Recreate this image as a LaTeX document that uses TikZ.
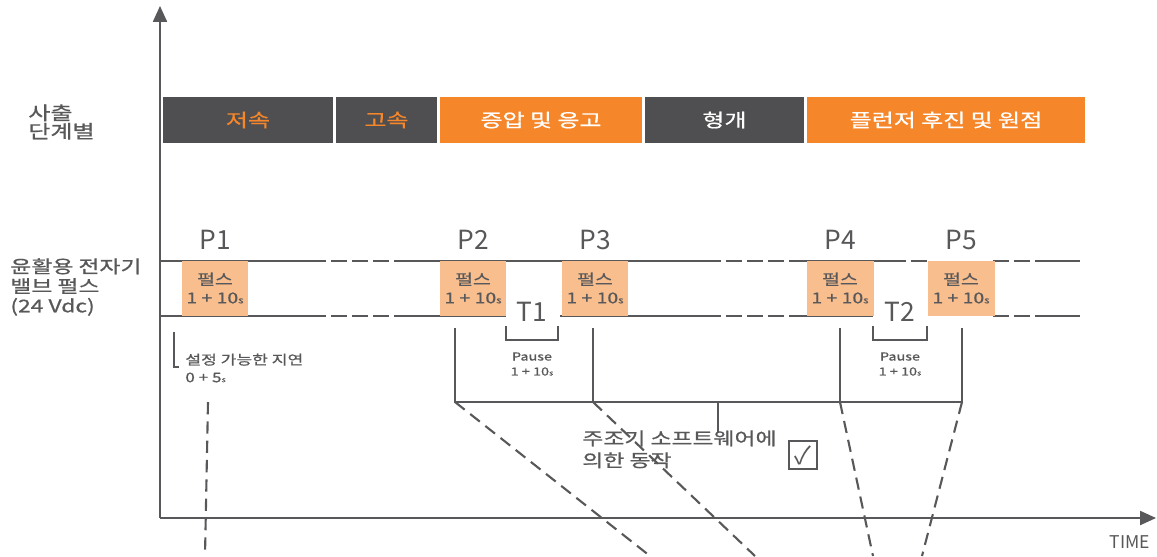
\documentclass[tikz,border=0pt]{standalone}
\usepackage{fontspec}
\setmainfont{Noto Sans CJK KR}
\newfontfamily\krfont{Noto Sans CJK KR}[FakeStretch=1.3, FakeBold=0.8]
\usetikzlibrary{arrows.meta}
\definecolor{darkbar}{HTML}{4F4F51}
\definecolor{orangebar}{HTML}{F5862A}
\definecolor{pulsefill}{HTML}{F8BE8E}
\definecolor{linegray}{HTML}{58585A}

\begin{document}
\begin{tikzpicture}[x=0.02cm, y=-0.02cm,
	every node/.style={inner sep=0pt, text=linegray},
	phase/.style={minimum height=0.92cm, font=\krfont\fontsize{10.5}{11}\selectfont},
	pulse/.style={fill=pulsefill, minimum width=1.34cm, minimum height=1.1cm, align=center, font=\krfont\fontsize{8.5}{10.5}\selectfont},
	plabel/.style={font=\fontsize{15}{16}\selectfont},
	small/.style={align=center, font=\krfont\fontsize{6.3}{8.5}\selectfont},
	axis/.style={draw=linegray, line width=0.9pt, -{Triangle[length=9pt, width=8pt]}},
	wire/.style={draw=linegray, line width=0.6pt},
	gapline/.style={wire, dash pattern=on 9pt off 3pt},
	cut/.style={draw=linegray, line width=1.2pt, dash pattern=on 7pt off 4pt}]

\useasboundingbox (0,0) rectangle (1157,556);

% axes
\coordinate (origin) at (160,518);
\coordinate (ytip) at (160,6);
\coordinate (xtip) at (1156,518);
\draw[axis] (origin) -- (ytip);
\draw[axis] (origin) -- (xtip);
\node(time) at (1130,542) {\fontsize{10}{11}\selectfont TIME};

% injection phases
\node(stage) [align=left, anchor=west, font=\krfont\fontsize{10.5}{10.5}\selectfont] at (28,122) {사출\\단계별};
\foreach [count=\i] \a\b\c\t\txt in {
163/333/darkbar/orangebar/저속%
,336/437/darkbar/orangebar/고속%
,440/642/orangebar/white/증압 및 응고%
,645/804/darkbar/white/형개%
,807/1085/orangebar/white/플런저 후진 및 원점%
}{
	\pgfmathsetmacro\w{(\b-\a)*0.02}
	\node(ph\i) [phase, fill=\c, text=\t, minimum width=\w cm] at ({(\a+\b)/2},120) {\txt};
}

% valve pulses
\node(valve) [align=left, anchor=west, font=\krfont\fontsize{10}{11.2}\selectfont] at (10,287) {윤활용 전자기\\밸브 펄스\\(24 Vdc)};
\draw[wire] (160,261) -- (310,261);
\draw[gapline] (310,261) -- (400,261);
\draw[wire] (400,261) -- (705,261);
\draw[gapline] (705,261) -- (800,261);
\draw[wire] (800,261) -- (890,261);
\draw[gapline] (890,261) -- (928,261);
\draw[gapline] (993,261) -- (1040,261);
\draw[wire] (1040,261) -- (1080,261);
\draw[wire] (160,316) -- (310,316);
\draw[gapline] (310,316) -- (400,316);
\draw[wire] (400,316) -- (506,316);
\draw[wire] (560,316) -- (705,316);
\draw[gapline] (705,316) -- (800,316);
\draw[wire] (800,316) -- (873,316);
\draw[gapline] (993,316) -- (1040,316);
\draw[wire] (1040,316) -- (1080,316);
\foreach [count=\i] \x in {215,473,595,840,961}{
	\node(p\i) [pulse] at (\x,288) {펄스\\1 + 10{\fontsize{5}{5}\selectfont s}};
	\node(l\i) [plabel] at (\x,240) {P\i};
}

% pauses
\foreach [count=\i] \a\b in {506/558,873/927}{
	\node(t\i) [plabel] at ({(\a+\b)/2},312) {T\i};
	\draw[wire] (\a,326) -- (\a,340) -- (\b,340) -- (\b,326);
	\node(pause\i) [small] at ({(\a+\b)/2},364) {Pause\\1 + 10{\fontsize{4}{4}\selectfont s}};
}

% delay
\draw[wire] (174,332) -- (174,367) -- (179,367);
\node(delay) [anchor=west, align=left, font=\krfont\fontsize{7.5}{10}\selectfont] at (185,368) {설정 가능한 지연\\0 + 5{\fontsize{4}{4}\selectfont s}};

% software control
\coordinate (s2) at (455,328);
\coordinate (s3) at (593,328);
\coordinate (s4) at (840,328);
\coordinate (s5) at (962,328);
\coordinate (b2) at (455,402);
\coordinate (b3) at (593,402);
\coordinate (b4) at (840,402);
\coordinate (b5) at (962,402);
\coordinate (mid) at (718,402);
\coordinate (stem) at (718,432);
\draw[wire] (s2) -- (b2) -- (b5) -- (s5);
\draw[wire] (s3) -- (b3);
\draw[wire] (s4) -- (b4);
\draw[wire] (mid) -- (stem);
\node(sw) [anchor=north west, align=left, font=\krfont\fontsize{10}{12.5}\selectfont] at (582,430) {주조기 소프트웨어에\\ 의한 동작};
\node(check) [draw=linegray, line width=0.6pt, minimum size=0.56cm, font=\fontsize{14}{14}\selectfont] at (803,455) {✓};

% cut lines
\coordinate (c1) at (208,402);
\coordinate (e1) at (205,556);
\coordinate (e2) at (650,556);
\coordinate (e3) at (755,556);
\coordinate (e4) at (873,556);
\coordinate (e5) at (922,556);
\draw[cut] (c1) -- (e1);
\draw[cut] (b2) -- (e2);
\draw[cut] (b3) -- (e3);
\draw[cut] (b4) -- (e4);
\draw[cut] (b5) -- (e5);

\end{tikzpicture}
\end{document}
